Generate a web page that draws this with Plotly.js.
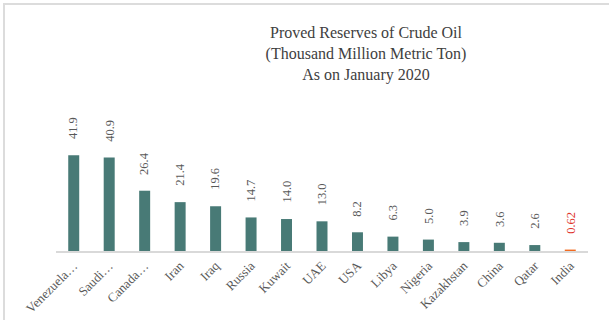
<!DOCTYPE html>
<html>
<head>
<meta charset="utf-8">
<script src="https://cdn.plot.ly/plotly-3.0.1.min.js"></script>
<style>
  html, body { margin: 0; padding: 0; background: #fff; }
  #wrap { position: relative; width: 609px; height: 320px; overflow: hidden; }
  #chart { position: absolute; left: 0; top: 0; width: 609px; height: 320px; }
  #frame { position: absolute; left: 3px; top: 3px; width: 620px; height: 330px;
           border-top: 2px solid #dcdcdc; border-left: 2px solid #dcdcdc; pointer-events: none; }
</style>
</head>
<body>
<div id="wrap">
  <div id="chart"></div>
  <div id="frame"></div>
</div>
<script>
const countries = ["Venezuela…", "Saudi…", "Canada…", "Iran", "Iraq", "Russia", "Kuwait", "UAE",
                   "USA", "Libya", "Nigeria", "Kazakhstan", "China", "Qatar", "India"];
const reserves = [41.9, 40.9, 26.4, 21.4, 19.6, 14.7, 14.0, 13.0, 8.2, 6.3, 5.0, 3.9, 3.6, 2.6, 0.62];
const valueLabels = ["41.9", "40.9", "26.4", "21.4", "19.6", "14.7", "14.0", "13.0",
                     "8.2", "6.3", "5.0", "3.9", "3.6", "2.6", "0.62"];
const highlight = "India";

const teal = "#487a76";
const orange = "#f26b21";
const labelGray = "#595959";
const labelRed = "#e0352b";
const serif = "'Liberation Serif', 'Times New Roman', serif";

const barColors = countries.map(c => c === highlight ? orange : teal);

const trace = {
  type: "bar",
  x: countries,
  y: reserves,
  marker: { color: barColors, line: { width: 0 } },
  hoverinfo: "x+y"
};

const annotations = countries.map((c, i) => ({
  x: c,
  y: reserves[i],
  xref: "x",
  yref: "y",
  text: valueLabels[i],
  showarrow: false,
  textangle: -90,
  xanchor: "center",
  yanchor: "bottom",
  yshift: 14,
  font: { family: serif, size: 12.5, color: c === highlight ? labelRed : labelGray }
}));

const layout = {
  width: 609,
  height: 320,
  margin: { l: 56, r: 21, t: 114, b: 69 },
  paper_bgcolor: "#ffffff",
  plot_bgcolor: "#ffffff",
  bargap: 0.69,
  showlegend: false,
  title: {
    text: "Proved Reserves of Crude Oil<br>(Thousand Million Metric Ton)<br>As on January 2020",
    font: { family: serif, size: 16, color: "#404040" },
    xref: "container",
    yref: "container",
    x: 366 / 609,
    xanchor: "center",
    y: 1 - 38 / 320,
    yanchor: "top"
  },
  xaxis: {
    type: "category",
    showline: true,
    linecolor: "#d9d9d9",
    linewidth: 2,
    ticks: "",
    ticklabelstandoff: 0,
    tickangle: -45,
    tickfont: { family: serif, size: 13, color: labelGray },
    showgrid: false,
    zeroline: false,
    fixedrange: true
  },
  yaxis: {
    range: [0, 60],
    visible: false,
    showgrid: false,
    zeroline: false,
    fixedrange: true
  },
  annotations: annotations
};

Plotly.newPlot("chart", [trace], layout, { displayModeBar: false, staticPlot: true });
</script>
</body>
</html>
